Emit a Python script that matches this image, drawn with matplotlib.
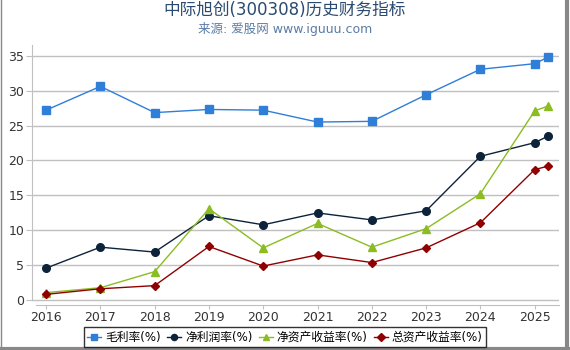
import matplotlib
matplotlib.use("Agg")
import matplotlib.pyplot as plt
from matplotlib.lines import Line2D

plt.rcParams['font.family'] = ['DejaVu Sans', 'Noto Sans CJK SC']

years = [2016, 2017, 2018, 2019, 2020, 2021, 2022, 2023, 2024, 2025, 2025.25]
year_ticks = [2016, 2017, 2018, 2019, 2020, 2021, 2022, 2023, 2024, 2025]

gross_margin = [27.2, 30.6, 26.85, 27.3, 27.2, 25.5, 25.6, 29.4, 33.05, 33.85, 34.8]
net_margin = [4.6, 7.6, 6.9, 12.1, 10.8, 12.5, 11.5, 12.8, 20.6, 22.55, 23.5]
roe = [1.1, 1.8, 4.1, 13.1, 7.5, 11.0, 7.6, 10.25, 15.25, 27.1, 27.8]
roa = [0.85, 1.65, 2.1, 7.7, 4.9, 6.5, 5.4, 7.5, 11.1, 18.7, 19.2]

names = ['毛利率(%)', '净利润率(%)', '净资产收益率(%)', '总资产收益率(%)']
colors = ['#2f7ed8', '#0d233a', '#8bbc21', '#910000']
markers = ['s', 'o', '^', 'D']
msizes = [5.5, 5.5, 6, 4.5]

fig = plt.figure(figsize=(5.7, 3.5), dpi=100)
ax = fig.add_axes([0.057, 0.130, 0.923, 0.741])

for vals, name, c, m, ms in zip([gross_margin, net_margin, roe, roa], names, colors, markers, msizes):
    ax.plot(years, vals, color=c, lw=1, marker=m, ms=ms, mec=c, label=name, zorder=3)

ax.set_xlim(2015.75, 2025.44)
ax.set_ylim(-0.6, 36.5)
ax.set_yticks([0, 5, 10, 15, 20, 25, 30, 35])
ax.set_xticks(year_ticks)
ax.yaxis.grid(True, color='#c0c0c0', lw=1)
ax.set_axisbelow(True)

for s in ['top', 'right']:
    ax.spines[s].set_visible(False)
ax.spines['left'].set_color('#c0c0c0')
ax.spines['left'].set_bounds(0, 36.5)
ax.spines['bottom'].set_color('#c0c0c0')
ax.spines['bottom'].set_bounds(2015.82, 2025.44)
ax.tick_params(axis='x', colors='#c0c0c0', labelcolor='#333333', length=3, labelsize=9, pad=2)
ax.tick_params(axis='y', colors='#c0c0c0', labelcolor='#333333', length=4, labelsize=9, pad=2)

fig.text(0.5, 0.972, '中际旭创(300308)历史财务指标', ha='center', va='center',
         fontsize=12, color='#2b4a6f')
fig.text(0.5, 0.918, '来源: 爱股网 www.iguuu.com', ha='center', va='center',
         fontsize=9, color='#5a7ca6')

leg = fig.legend(loc='center', bbox_to_anchor=(0.5, 0.036), ncol=4, fontsize=8.5,
                 frameon=True, fancybox=False, handlelength=1.2, handletextpad=0.35,
                 columnspacing=0.5, borderpad=0.3, markerscale=0.8)
leg.get_frame().set_edgecolor('black')
leg.get_frame().set_linewidth(1)

# outer frame
fig.add_artist(Line2D([0.001, 0.001], [0, 1], transform=fig.transFigure, color='#888888', lw=1))
fig.add_artist(Line2D([0.9955, 0.9955], [0, 1], transform=fig.transFigure, color='#888888', lw=3))
fig.add_artist(Line2D([0, 1], [0.004, 0.004], transform=fig.transFigure, color='#888888', lw=3))

fig.savefig('out.png', dpi=100)
